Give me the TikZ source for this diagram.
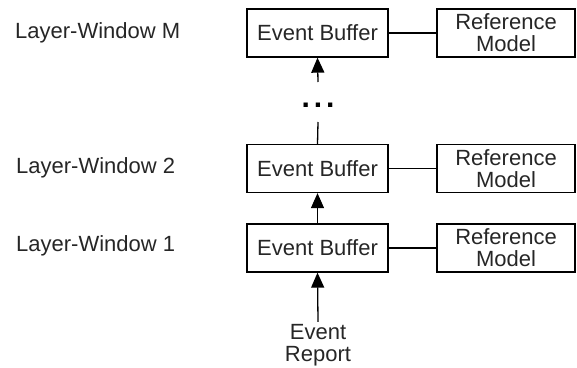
\documentclass[tikz,border=0pt]{standalone}
\usepackage{fontspec}
\setmainfont{Liberation Sans}
\usetikzlibrary{arrows.meta}
\begin{document}
\begin{tikzpicture}[x=1pt,y=-1pt,
  every node/.style={font=\fontsize{22}{22}\selectfont, text=black!85, inner sep=0pt},
  buf/.style={draw=black, line width=1.3pt, minimum width=141pt, minimum height=48pt},
  refm/.style={draw=black, line width=1.3pt, minimum width=138pt, minimum height=48pt, align=center},
  lbl/.style={anchor=west},
  conn/.style={draw=black, line width=1.3pt},
  arr/.style={conn, -{Triangle[length=15pt,width=13pt]}}]
\useasboundingbox (0,0) rectangle (577,367);
% labels
\node[lbl] (lM) at (15,33) {Layer-Window M};
\node[lbl] (l2) at (16,168) {Layer-Window 2};
\node[lbl] (l1) at (16,246) {Layer-Window 1};
% event buffers
\node[buf] (ebM) at (317.5,33) {Event Buffer};
\node[buf] (eb2) at (317.5,168.5) {Event Buffer};
\node[buf] (eb1) at (317.5,248) {Event Buffer};
% reference models
\node[refm] (rM) at (506,33) {Reference\\Model};
\node[refm] (r2) at (506,168.5) {Reference\\Model};
\node[refm] (r1) at (506,248) {Reference\\Model};
% dots and event report
\node[text=black] (dots) at (318,105) {\fontsize{30}{30}\selectfont\bfseries .\kern4pt.\kern4pt.};
\coordinate (dotsbot) at (318,122);
\coordinate (arrM) at (318,82);
\node[align=center] (er) at (318,345) {Event\\Report};
% connectors
\draw[conn] (ebM) -- (rM);
\draw[conn] (eb2) -- (r2);
\draw[conn] (eb1) -- (r1);
\draw[arr] (arrM) -- (ebM.south);
\draw[conn] (dotsbot) -- (eb2.north);
\draw[arr] (eb1.north) -- (eb2.south);
\draw[arr] (er.north) ++(0,-2) -- (eb1.south);
\end{tikzpicture}
\end{document}
